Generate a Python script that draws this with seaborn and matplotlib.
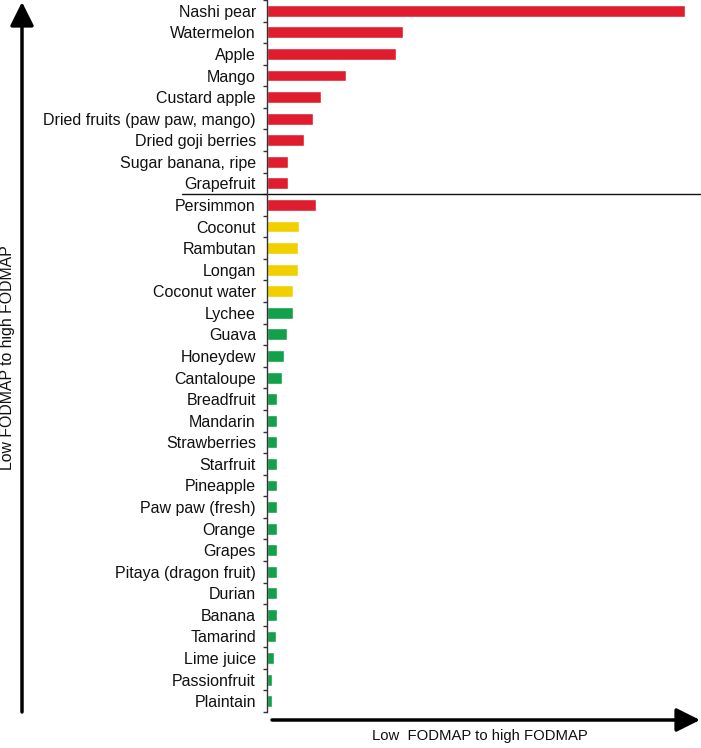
import matplotlib
matplotlib.use("Agg")
import matplotlib.pyplot as plt
import seaborn as sns
import pandas as pd
import numpy as np

# Data (relative FODMAP level)
fruits = ["Nashi pear", "Watermelon", "Apple", "Mango", "Custard apple",
          "Dried fruits (paw paw, mango)", "Dried goji berries",
          "Sugar banana, ripe", "Grapefruit", "Persimmon", "Coconut",
          "Rambutan", "Longan", "Coconut water", "Lychee", "Guava",
          "Honeydew", "Cantaloupe", "Breadfruit", "Mandarin", "Strawberries",
          "Starfruit", "Pineapple", "Paw paw (fresh)", "Orange", "Grapes",
          "Pitaya (dragon fruit)", "Durian", "Banana", "Tamarind",
          "Lime juice", "Passionfruit", "Plaintain"]
values = [418, 136, 129, 79, 54, 46, 37, 21, 21, 49, 32, 31, 31, 26, 26,
          20, 17, 15, 10, 10, 10, 10, 10, 10, 10, 10, 10, 10, 10, 9, 7, 5, 5]
levels = ["high"] * 10 + ["moderate"] * 4 + ["low"] * 19

colors = {"high": "#E01D2F", "moderate": "#F2D000", "low": "#13A04A"}

df = pd.DataFrame({"fruit": fruits, "value": values, "level": levels})

sns.set_theme(style="white")
plt.rcParams["font.family"] = ["Liberation Sans", "DejaVu Sans"]

W, H = 701, 748
fig = plt.figure(figsize=(W / 100, H / 100), dpi=100)
ax = fig.add_axes([267 / W, 1 - 712 / H, 1 - 267 / W, 712 / H])

sns.barplot(data=df, x="value", y="fruit", hue="level", palette=colors,
            orient="h", width=0.55, dodge=False, legend=False, ax=ax,
            saturation=1)

ax.set_xlim(0, 434)
ax.set_ylim(32.5, -0.5)
ax.set_xlabel("")
ax.set_ylabel("")
ax.set_xticks([])

sns.despine(ax=ax, top=True, right=True, bottom=True)
ax.spines["left"].set_color("#333333")
ax.spines["left"].set_linewidth(1.0)

# labels on categories, ticks at the boundaries
ax.tick_params(axis="y", which="major", length=0, pad=8, labelsize=11.5,
               labelcolor="#111111")
ax.set_yticks(np.arange(-0.5, len(fruits), 1.0), minor=True)
ax.tick_params(axis="y", which="minor", length=3, width=1, color="#333333",
               left=True)

# separator between high group and the rest
ax.plot([-85, 434], [8.5, 8.5], color="#111111", lw=1.0, clip_on=False)

# axis arrows
def px(x, y):
    return (x / W, 1 - y / H)

arrow = dict(arrowstyle="-|>,head_length=0.9,head_width=0.45",
             color="black", lw=2.5, shrinkA=0, shrinkB=0)
fig.add_artist(matplotlib.patches.FancyArrowPatch(
    px(22, 712), px(22, 2), transform=fig.transFigure, mutation_scale=16,
    **arrow))
fig.add_artist(matplotlib.patches.FancyArrowPatch(
    px(272, 720), px(700, 720), transform=fig.transFigure, mutation_scale=16,
    **arrow))

fig.text(*px(8, 358), "Low FODMAP to high FODMAP", rotation=90,
         ha="center", va="center", fontsize=11.4, color="#111111")
fig.text(*px(480, 736), "Low  FODMAP to high FODMAP",
         ha="center", va="center", fontsize=10.7, color="#111111")

fig.savefig("out.png", dpi=100)
